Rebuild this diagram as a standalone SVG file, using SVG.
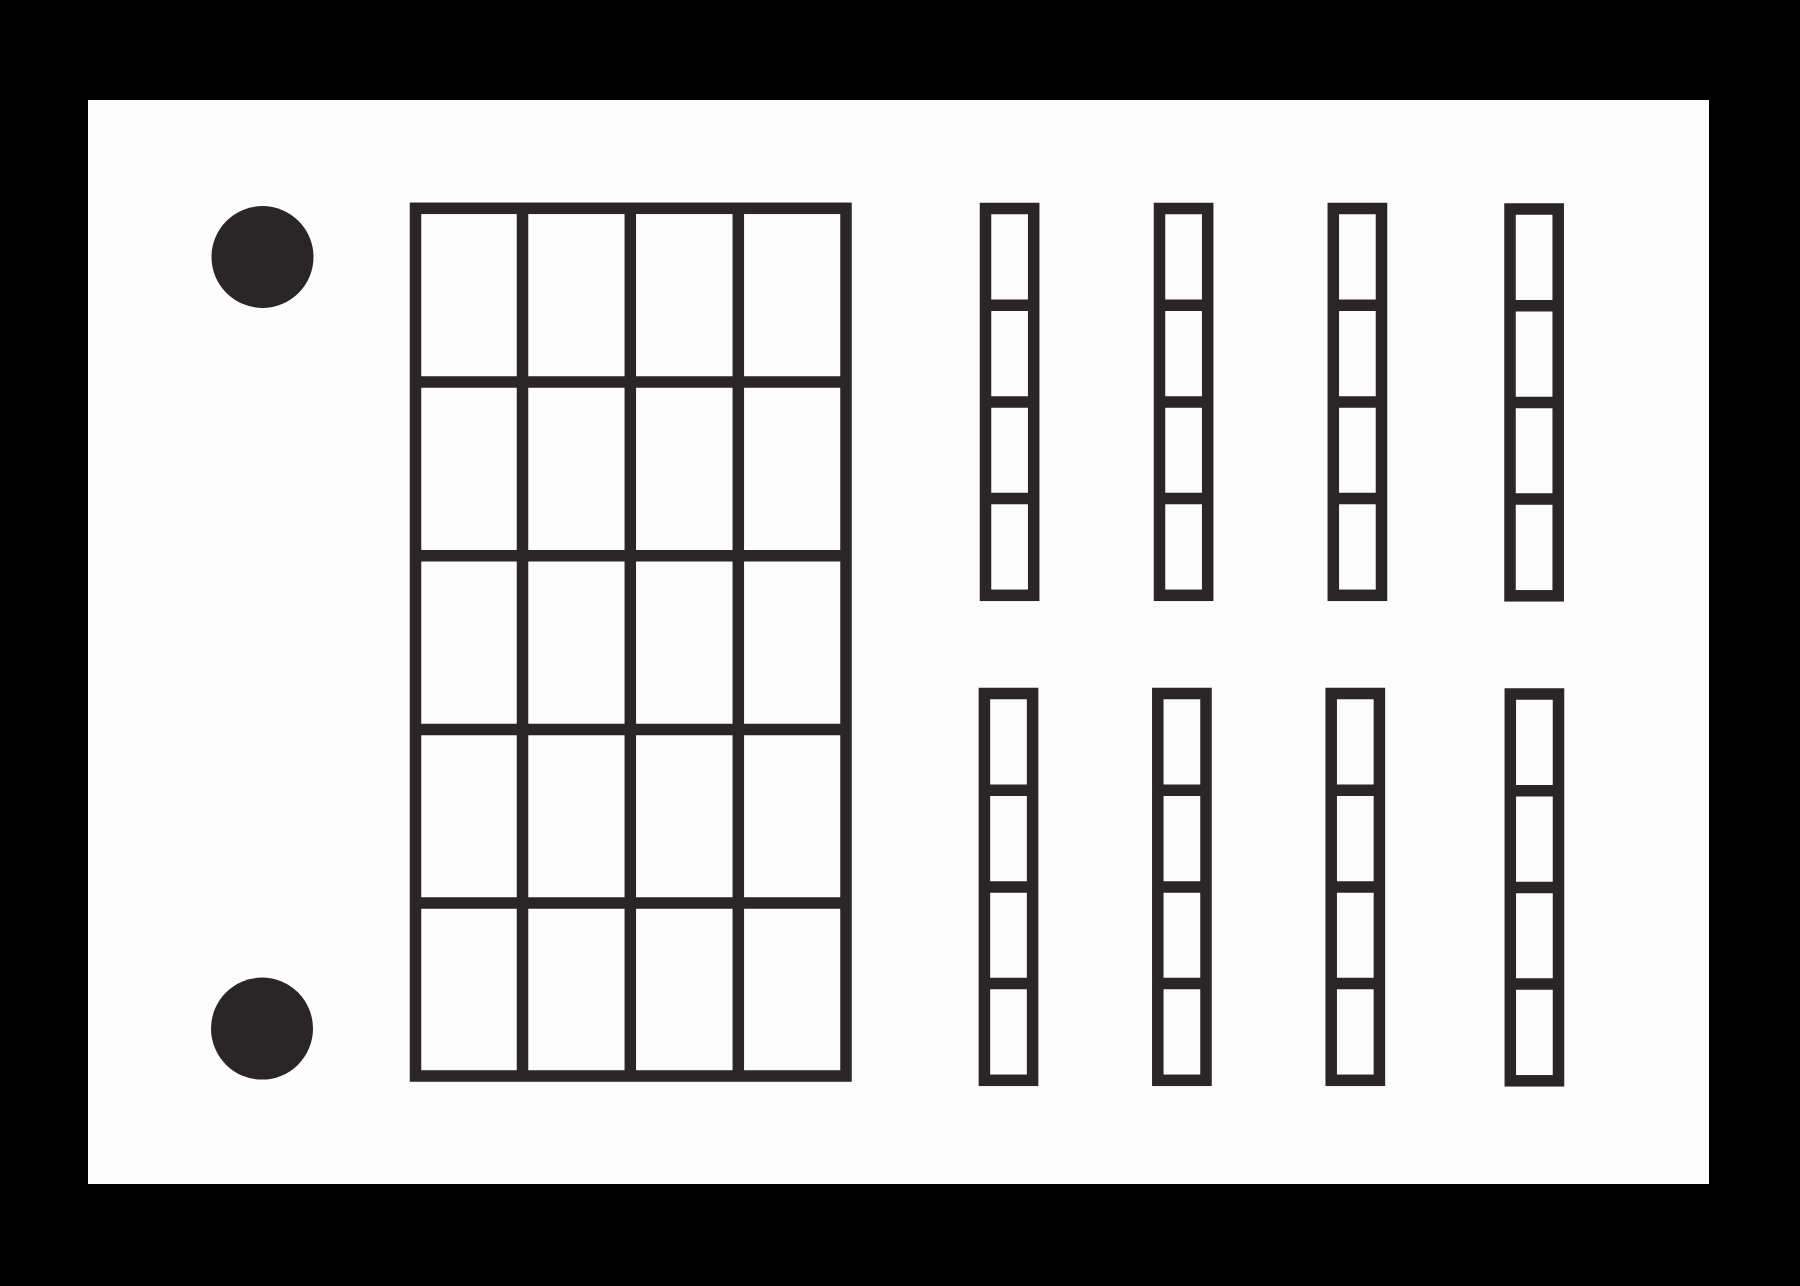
<svg xmlns="http://www.w3.org/2000/svg" xmlns:xlink="http://www.w3.org/1999/xlink" width="1800" height="1286" viewBox="0 0 1800 1286">
  <style>
    .ln { fill: none; stroke: #2a2526; stroke-width: 11.5; }
    .dot { fill: #2a2526; }
  </style>
  <defs>
    <g id="bar">
      <rect class="ln" x="0" y="0" width="48.2" height="386.8"/>
      <line class="ln" x1="0" y1="96.7" x2="48.2" y2="96.7"/>
      <line class="ln" x1="0" y1="193.4" x2="48.2" y2="193.4"/>
      <line class="ln" x1="0" y1="290.1" x2="48.2" y2="290.1"/>
    </g>
  </defs>
  <rect x="0" y="0" width="1800" height="1286" fill="#000000"/>
  <rect id="paper" x="88" y="100" width="1621" height="1084" fill="#fcfcfd"/>

  <g id="hole-top"><circle class="dot" cx="262.5" cy="257" r="51"/></g>
  <g id="hole-bottom"><circle class="dot" cx="262" cy="1028.6" r="51"/></g>

  <g id="grid">
    <rect class="ln" x="415.5" y="208.3" width="430.5" height="867.7"/>
    <line class="ln" x1="522.5" y1="208.3" x2="522.5" y2="1076"/>
    <line class="ln" x1="630.3" y1="208.3" x2="630.3" y2="1076"/>
    <line class="ln" x1="738.3" y1="208.3" x2="738.3" y2="1076"/>
    <line class="ln" x1="415.5" y1="382" x2="846" y2="382"/>
    <line class="ln" x1="415.5" y1="555.8" x2="846" y2="555.8"/>
    <line class="ln" x1="415.5" y1="729.4" x2="846" y2="729.4"/>
    <line class="ln" x1="415.5" y1="903" x2="846" y2="903"/>
  </g>

  <g id="bar-top-1"><use xlink:href="#bar" href="#bar" x="985.5" y="208.5"/></g>
  <g id="bar-top-2"><use xlink:href="#bar" href="#bar" x="1159.5" y="208.5"/></g>
  <g id="bar-top-3"><use xlink:href="#bar" href="#bar" x="1333.3" y="208.5"/></g>
  <g id="bar-top-4"><use xlink:href="#bar" href="#bar" x="1510" y="209"/></g>

  <g id="bar-bottom-1"><use xlink:href="#bar" href="#bar" x="984.4" y="693.5"/></g>
  <g id="bar-bottom-2"><use xlink:href="#bar" href="#bar" x="1157.8" y="693.5"/></g>
  <g id="bar-bottom-3"><use xlink:href="#bar" href="#bar" x="1331.2" y="693.5"/></g>
  <g id="bar-bottom-4"><use xlink:href="#bar" href="#bar" x="1510.3" y="694"/></g>

  <g id="connectors"></g>
</svg>
